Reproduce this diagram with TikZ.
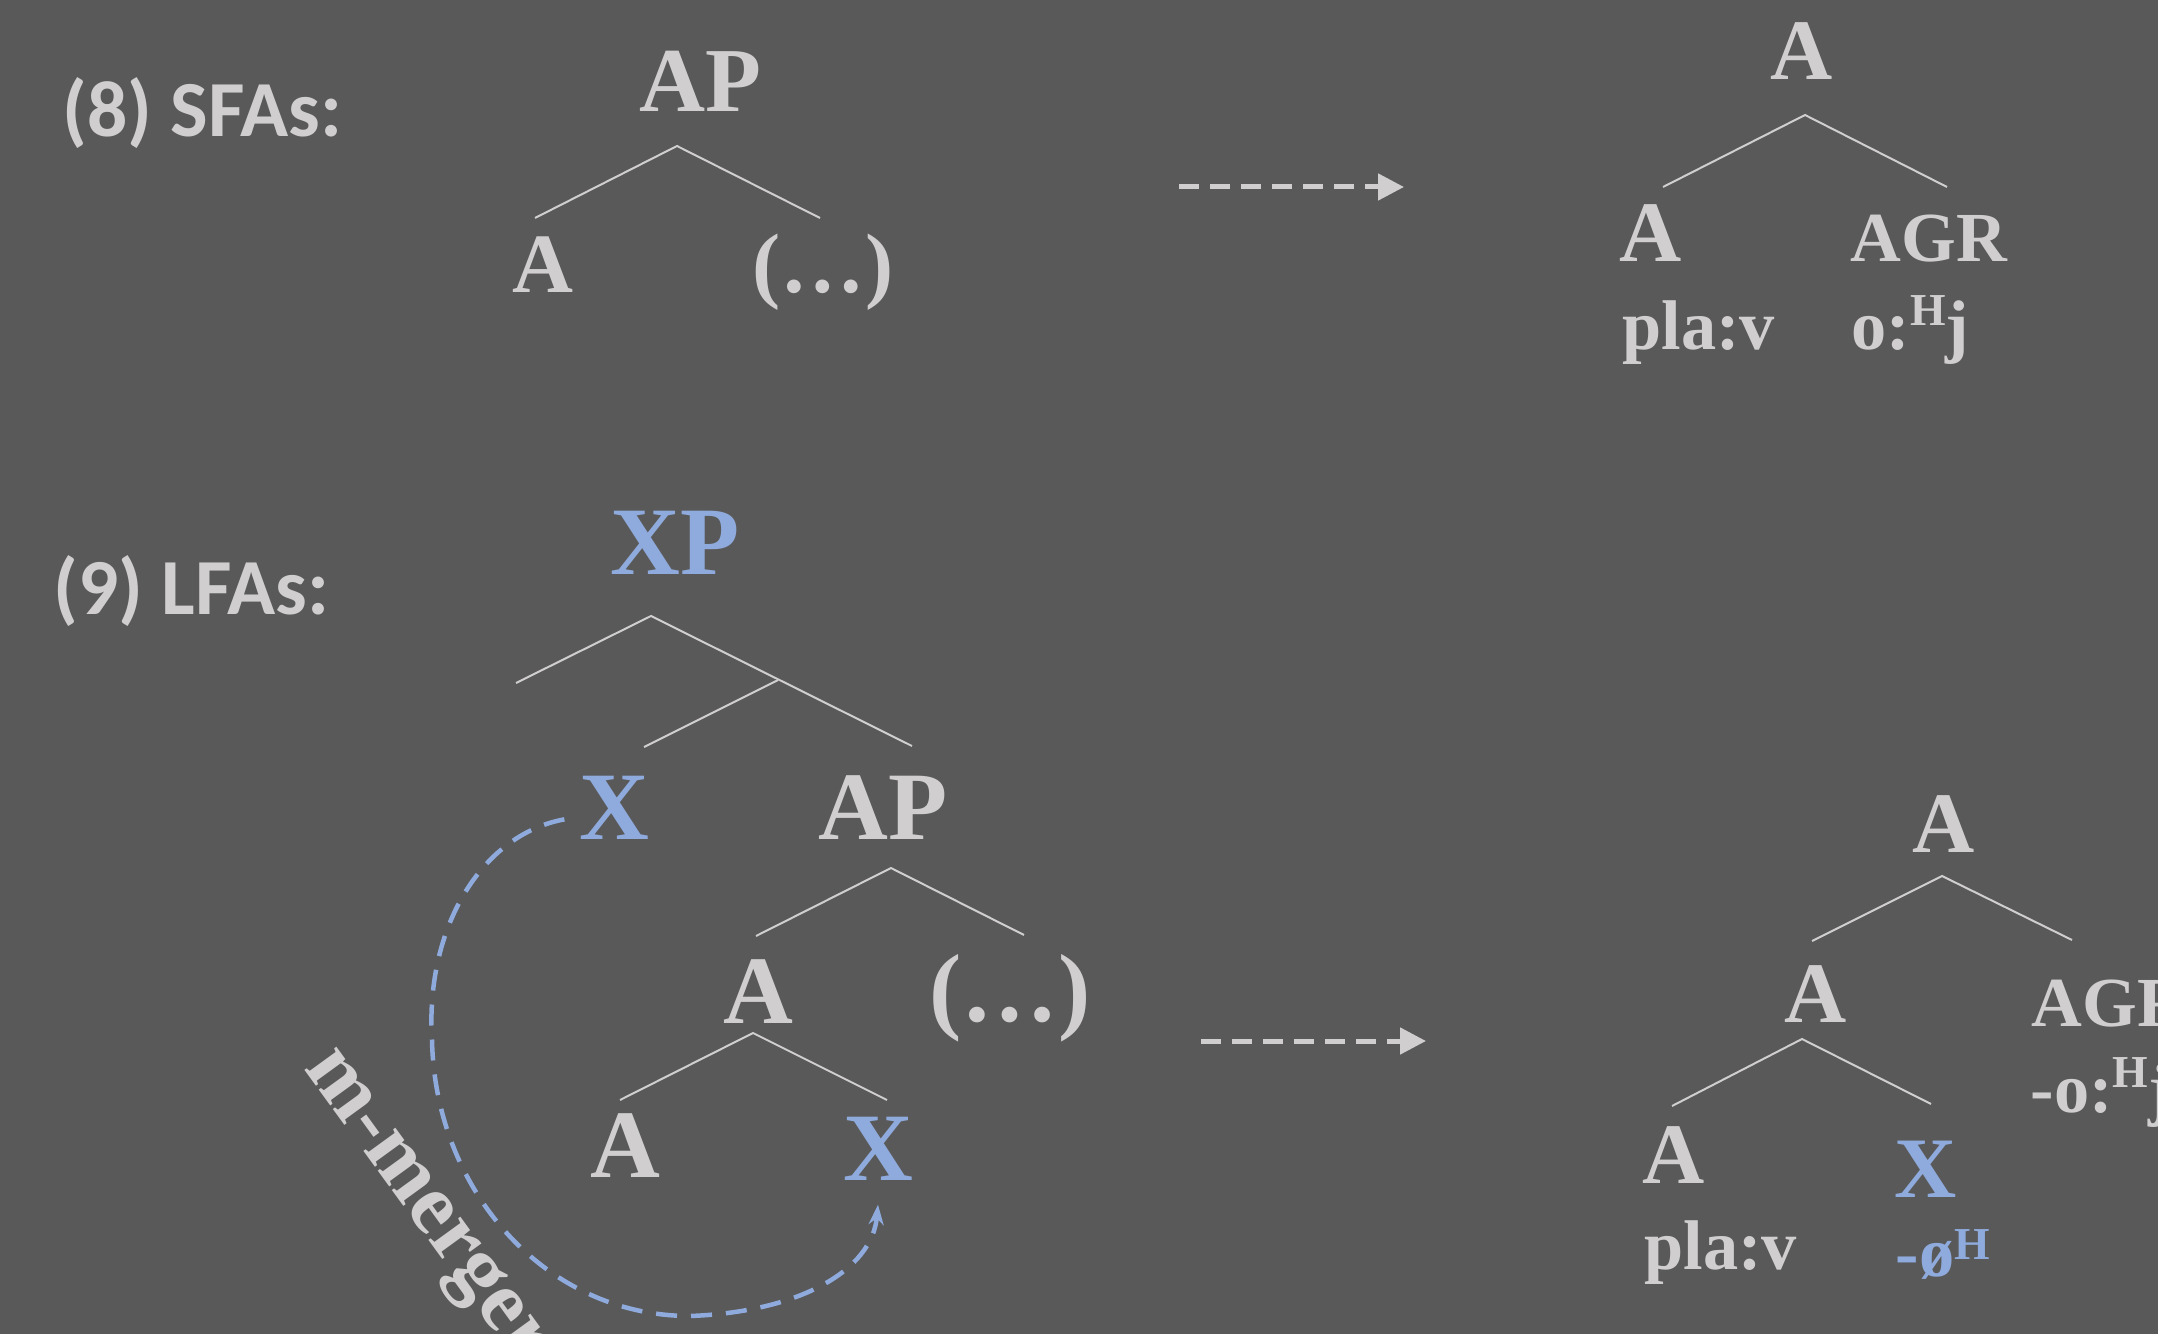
\documentclass[tikz,border=0pt]{standalone}
\usepackage{fontspec}
\setmainfont{Liberation Serif}
\newfontfamily\exlabelfont{Carlito}
\usepackage{xcolor}
\usetikzlibrary{arrows.meta,positioning}

\definecolor{slidebg}{HTML}{595959}
\definecolor{txtgray}{HTML}{D0CECE}
\definecolor{mblue}{HTML}{8FAADC}

\newcommand{\tonehi}[2][0.24cm]{\raisebox{#1}{\fontsize{13}{13}\selectfont #2}}

\begin{document}
\begin{tikzpicture}[
  x=0.01cm, y=-0.01cm,
  exlabel/.style={anchor=base west, inner sep=0pt, text=txtgray,
    font=\exlabelfont\bfseries\fontsize{22.6}{22.6}\selectfont},
  cat/.style={anchor=base, inner sep=0pt, text=txtgray,
    font=\bfseries\fontsize{#1}{#1}\selectfont},
  catx/.style={cat=#1, text=mblue},
  morph/.style={anchor=base west, inner sep=0pt, text=txtgray,
    font=\bfseries\fontsize{20}{20}\selectfont},
  branch/.style={draw=txtgray, line width=0.02cm},
  derive/.style={-{Triangle[length=0.26cm,width=0.26cm]}, draw=txtgray,
    line width=0.05cm, dash pattern=on 0.2cm off 0.11cm},
  merge/.style={-{Stealth[length=0.2cm,width=0.15cm]}, draw=mblue,
    line width=0.045cm, dash pattern=on 0.21cm off 0.14cm}
]
\useasboundingbox (0,0) rectangle (2158,1334);
\fill[slidebg] (0,0) rectangle (2158,1334);

% ---- (8) SFAs: small tree ----
\node[exlabel] (sfalbl) at (62,137) {(8) SFAs:};
\node[cat=26] (sAP) at (700,112) {AP};
\node[cat=24] (sA) at (543,293) {A};
\node[cat=24] (sdots) at (823,293) {(…)};
\coordinate (sap-top) at (677,146);
\coordinate (sap-l) at (535,218);
\coordinate (sap-r) at (820,218);
\draw[branch] (sap-l) -- (sap-top) -- (sap-r);

% ---- derivation arrow (8) ----
\coordinate (der1-s) at (1179,187);
\coordinate (der1-e) at (1404,187);
\draw[derive] (der1-s) -- (der1-e);

% ---- (8) output: A + AGR ----
\node[cat=24.5] (rA) at (1802,80) {A};
\node[cat=24.5] (rAl) at (1651,262) {A};
\node[morph] (rAGR) at (1850,262) {AGR};
\node[morph] (rpla) at (1622,350) {pla:v};
\node[morph] (rsuf) at (1851,350) {o:\tonehi{H}j};
\coordinate (ra-top) at (1805,115);
\coordinate (ra-l) at (1663,187);
\coordinate (ra-r) at (1947,187);
\draw[branch] (ra-l) -- (ra-top) -- (ra-r);

% ---- (9) LFAs: XP over AP ----
\node[exlabel] (lfalbl) at (53,615) {(9) LFAs:};
\node[catx=27.5] (lXP) at (675,575) {XP};
\node[catx=27.5] (lX) at (614,839) {X};
\node[cat=27.5] (lAP) at (883,839) {AP};
\node[cat=27.5] (lAm) at (758,1023) {A};
\node[cat=27.5] (ldots) at (1010,1021) {(…)};
\node[cat=27.5] (lAl) at (625,1177) {A};
\node[catx=27.5] (lXl) at (878,1180) {X};
\coordinate (lxp-top) at (651,616);
\coordinate (lxp-l) at (516,683);
\coordinate (lxp-r) at (912,746);
\coordinate (lxb-top) at (778,680);
\coordinate (lxb-l) at (644,747);
\draw[branch] (lxp-l) -- (lxp-top) -- (lxp-r);
\draw[branch] (lxb-top) -- (lxb-l);
\coordinate (lap-top) at (891,868);
\coordinate (lap-l) at (756,936);
\coordinate (lap-r) at (1024,935);
\draw[branch] (lap-l) -- (lap-top) -- (lap-r);
\coordinate (la-top) at (753,1033);
\coordinate (la-l) at (620,1100);
\coordinate (la-r) at (887,1100);
\draw[branch] (la-l) -- (la-top) -- (la-r);

% ---- m-merger: X lowers onto A ----
\draw[merge] ([shift={(-14,12)}]lX.west)
  .. controls (480,835) and (425,930) .. (432,1040)
  .. controls (435,1190) and (545,1316) .. (690,1316)
  .. controls (800,1312) and (872,1270) .. ([shift={(0,24)}]lXl.south);
\node[cat=24.5, anchor=base west, rotate=-54] (mlbl) at (303,1068) {m-merger};

% ---- derivation arrow (9) ----
\coordinate (der2-s) at (1201,1041);
\coordinate (der2-e) at (1426,1041);
\draw[derive] (der2-s) -- (der2-e);

% ---- (9) output: [[A X] AGR] ----
\node[cat=24.5] (qA) at (1944,852) {A};
\node[cat=24.5] (qAm) at (1816,1022) {A};
\node[morph] (qAGR) at (2031,1026) {AGR};
\node[morph] (qsuf) at (2030,1112) {-o:\tonehi{H}j};
\node[cat=24.5] (qAl) at (1674,1183) {A};
\node[catx=24.5] (qX) at (1926,1197) {X};
\node[morph] (qpla) at (1644,1269) {pla:v};
\node[morph, text=mblue] (qnull) at (1895,1276) {-ø\tonehi[0.16cm]{H}};
\coordinate (qa-top) at (1942,876);
\coordinate (qa-l) at (1812,941);
\coordinate (qa-r) at (2072,940);
\draw[branch] (qa-l) -- (qa-top) -- (qa-r);
\coordinate (qam-top) at (1802,1039);
\coordinate (qam-l) at (1672,1106);
\coordinate (qam-r) at (1931,1104);
\draw[branch] (qam-l) -- (qam-top) -- (qam-r);

\end{tikzpicture}
\end{document}
